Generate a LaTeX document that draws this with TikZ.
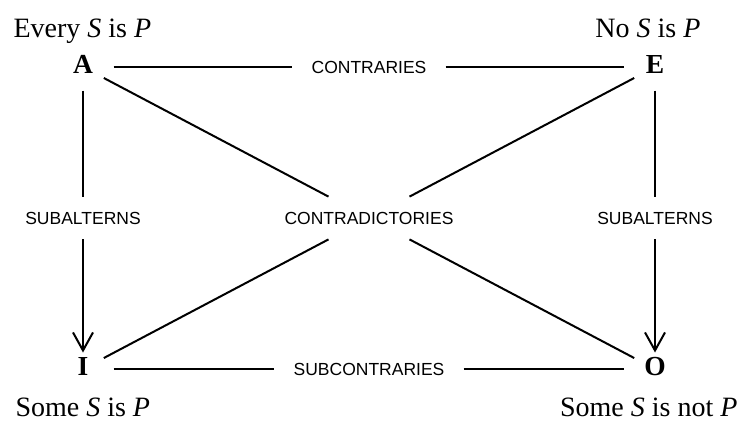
\documentclass[tikz,border=0pt]{standalone}
\usepackage{fontspec}
\setmainfont{Liberation Serif}
\setsansfont{Liberation Sans}
\usetikzlibrary{arrows.meta}
\begin{document}
\begin{tikzpicture}[x=1pt,y=-1pt,
  corner/.style={circle,minimum size=46.6pt,inner sep=0pt,text depth=6pt,font=\fontsize{27.5}{30}\selectfont\bfseries},
  rel/.style={inner xsep=19pt,inner ysep=15pt,font=\fontsize{17.5}{20}\sffamily},
  prop/.style={font=\fontsize{28}{32}\selectfont},
  conn/.style={line width=2pt},
  arr/.style={conn,-{Straight Barb[length=18pt,width=20pt]},shorten >=-7pt}]
\useasboundingbox (0,0) rectangle (743,421);
% corners
\node[corner] (A) at (83,67) {A};
\node[corner] (E) at (655,67) {E};
\node[corner] (I) at (83,369) {I};
\node[corner] (O) at (655,369) {O};
% propositions
\node[prop,anchor=base west] (pA) at (10,37) {Every \textit{S} is \textit{P}};
\node[prop,anchor=base east] (pE) at (704,37) {No \textit{S} is \textit{P}};
\node[prop,anchor=base west] (pI) at (12,416) {Some \textit{S} is \textit{P}};
\node[prop,anchor=base east] (pO) at (741,416) {Some \textit{S} is not \textit{P}};
% relation labels
\node[rel] (ctr) at (369,67) {CONTRARIES};
\node[rel] (sub) at (369,369) {SUBCONTRARIES};
\node[rel] (sl) at (83,218) {SUBALTERNS};
\node[rel] (sr) at (655,218) {SUBALTERNS};
\node[rel] (cd) at (369,218) {CONTRADICTORIES};
% connectors
\draw[conn,shorten <=7pt] (A) -- (ctr);
\draw[conn,shorten >=8pt] (ctr) -- (E);
\draw[conn,shorten <=7pt] (I) -- (sub);
\draw[conn,shorten >=8pt] (sub) -- (O);
\draw[conn] (A) -- (sl);
\draw[arr] (sl) -- (I);
\draw[conn] (E) -- (sr);
\draw[arr] (sr) -- (O);
\draw[conn] (A) -- (cd);
\draw[conn] (cd) -- (O);
\draw[conn] (E) -- (cd);
\draw[conn] (cd) -- (I);
\end{tikzpicture}
\end{document}
